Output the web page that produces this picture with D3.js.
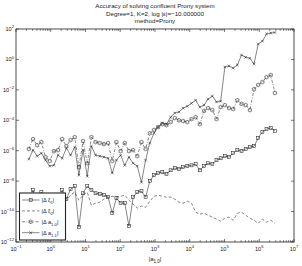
<!DOCTYPE html>
<html><head><meta charset="utf-8">
<script src="https://cdn.jsdelivr.net/npm/d3@7"></script>
<style>body{margin:0;background:#fff}svg{display:block;font-family:"Liberation Sans",Arial,sans-serif}</style>
</head><body><svg id="c" width="302" height="266"></svg>
<script>
const titleLines = ["Accuracy of solving confluent Prony system", "Degree=1, K=2, log |\u03b5|=\u221210.000000", "method=Prony"];
const xExp = [-0.63,-0.51,-0.39,-0.27,-0.15,-0.03,0.09,0.21,0.33,0.45,0.57,0.69,0.81,0.93,1.05,1.17,1.29,1.41,1.53,1.65,1.77,1.89,2.01,2.13,2.25,2.37,2.49,2.61,2.73,2.85,2.97,3.09,3.21,3.33,3.45,3.57,3.69,3.81,3.93,4.05,4.17,4.29,4.41,4.53,4.65,4.77,4.89,5.01,5.13,5.25,5.37,5.49,5.61,5.73,5.85,5.97,6.09,6.21,6.33,6.45];
const dXi1 = [5.6e-10,2.6e-9,2.6e-10,1.9e-9,2.6e-10,1.2e-10,3.1e-10,5.6e-10,2.6e-9,6.6e-10,3.0e-9,4.7e-9,9.4e-12,1.6e-9,4.7e-9,2.6e-9,1.6e-9,1.4e-9,1.2e-9,8.9e-10,7.8e-11,7.6e-10,3.6e-10,3.6e-10,1.1e-11,8.9e-10,1.9e-9,2.2e-9,8.9e-10,1.0e-8,2.5e-8,3.4e-8,3.9e-8,2.9e-8,5.2e-8,7.2e-8,6.2e-8,8.3e-8,9.8e-8,1.1e-7,1.3e-7,5.2e-8,9.8e-8,1.5e-7,1.3e-7,2.4e-7,3.2e-7,4.4e-7,3.8e-7,6.9e-7,1.1e-6,9.4e-7,1.3e-6,1.7e-6,2.0e-6,6.7e-6,1.7e-5,2.6e-5,3.1e-5,2.0e-5];
const dXi2 = [4.1e-10,1.2e-9,3.6e-10,8.9e-10,2.3e-10,1.7e-10,2.6e-10,4.8e-10,1.0e-9,5.6e-10,1.2e-9,1.9e-9,5.6e-10,1.2e-9,1.9e-9,2.6e-10,3.6e-10,4.1e-10,6.6e-10,8.9e-10,1.0e-9,8.9e-10,1.0e-9,1.2e-9,5.6e-10,3.1e-10,1.7e-10,2.3e-10,1.9e-10,4.8e-10,1.0e-9,1.2e-9,1.0e-9,8.9e-10,8.9e-10,6.6e-10,4.1e-10,3.6e-10,4.8e-10,3.6e-10,9.1e-11,6.7e-11,7.8e-11,5.8e-11,4.3e-11,3.2e-11,2.3e-11,3.7e-11,4.3e-11,2.7e-11,7.8e-11,9.1e-11,5.8e-11,3.7e-11,2.7e-11,1.7e-11,3.2e-11,2.0e-11,2.7e-11,1.7e-11];
const dA10 = [1.3e-6,5.8e-6,2.3e-6,3.7e-6,3.8e-7,2.1e-7,9.4e-7,1.1e-6,5.8e-6,2.0e-6,5.0e-6,7.8e-6,8.3e-8,4.3e-6,1.5e-7,7.8e-6,3.7e-6,3.2e-6,2.7e-6,3.2e-6,2.1e-7,3.7e-6,9.4e-7,3.2e-6,9.4e-7,1.1e-6,4.4e-7,3.7e-6,1.3e-6,1.4e-5,2.3e-5,3.6e-5,5.6e-5,4.8e-5,7.6e-5,1.4e-4,1.0e-4,8.9e-5,7.6e-5,1.2e-4,1.6e-4,5.6e-5,4.1e-4,6.3e-4,4.7e-4,1.2e-4,7.4e-4,1.0e-3,6.3e-4,5.5e-4,2.1e-3,1.2e-3,1.0e-3,4.7e-4,1.1e-2,2.1e-2,3.3e-2,6.9e-2,9.4e-2,6.2e-3];
const dA11 = [2.8e-7,1.1e-6,4.4e-7,6.9e-7,2.4e-7,9.8e-8,1.1e-7,5.1e-7,3.2e-7,1.5e-6,5.1e-7,1.7e-6,2.5e-8,1.1e-6,2.1e-8,2.0e-6,5.1e-7,4.4e-7,3.8e-7,3.2e-7,3.4e-8,2.4e-7,5.1e-7,1.1e-7,3.8e-7,1.5e-7,9.8e-8,8.5e-9,2.4e-7,3.2e-6,1.4e-5,3.6e-5,6.6e-5,5.6e-5,1.6e-4,3.0e-4,3.5e-4,6.3e-4,8.5e-4,1.3e-3,2.1e-3,7.4e-4,1.0e-3,2.5e-3,3.9e-3,1.6e-3,1.8e-3,0.32,0.37,0.27,0.43,1.95,1.4,1.2,0.50,10.3,16,47,55,59];
const xTickExp = [-1,0,1,2,3,4,5,6,7];
const yTickExp = [2,0,-2,-4,-6,-8,-10,-12];
const legendLabels = [["\u0394 \u03be","1"],["\u0394 \u03be","2"],["\u0394 a","1,0"],["\u0394 a","1,1"]];
const xLabel = ["a","1,0"];

const svg = d3.select("#c");
const L=16,R=294,T=29,B=242;
const x = d3.scaleLog().domain([0.1,1e7]).range([L,R]);
const y = d3.scaleLog().domain([1e-12,1e2]).range([B,T]);
const xv = xExp.map(e=>Math.pow(10,e));
const ink="#222";

svg.selectAll("text.title").data(titleLines).enter().append("text")
  .attr("x",(L+R)/2).attr("y",(d,i)=>8+i*7.6).attr("text-anchor","middle")
  .attr("font-size",6.2).attr("fill",ink).text(d=>d);

svg.append("rect").attr("x",L).attr("y",T).attr("width",R-L).attr("height",B-T)
  .attr("fill","none").attr("stroke",ink).attr("stroke-width",0.8);

const g = svg.append("g").attr("stroke",ink).attr("stroke-width",0.6);
xTickExp.forEach((e,k)=>{
  const px=x(Math.pow(10,e));
  g.append("line").attr("x1",px).attr("x2",px).attr("y1",B).attr("y2",B-3);
  g.append("line").attr("x1",px).attr("x2",px).attr("y1",T).attr("y2",T+3);
  if(k<xTickExp.length-1){
    for(let m=2;m<=9;m++){
      const pm=x(m*Math.pow(10,e));
      g.append("line").attr("x1",pm).attr("x2",pm).attr("y1",B).attr("y2",B-1.8);
      g.append("line").attr("x1",pm).attr("x2",pm).attr("y1",T).attr("y2",T+1.8);
    }
  }
});
yTickExp.forEach(e=>{
  const py=y(Math.pow(10,e));
  g.append("line").attr("x1",L).attr("x2",L+3).attr("y1",py).attr("y2",py);
  g.append("line").attr("x1",R).attr("x2",R-3).attr("y1",py).attr("y2",py);
});

function powLabel(sel,e){
  sel.append("tspan").text("10");
  sel.append("tspan").attr("dy",-2.6).attr("font-size",4.2).text(e<0?"\u2212"+(-e):String(e));
}
xTickExp.forEach(e=>{
  const t=svg.append("text").attr("x",x(Math.pow(10,e))).attr("y",251).attr("text-anchor","middle")
    .attr("font-size",5.6).attr("fill",ink);
  powLabel(t,e);
});
yTickExp.forEach(e=>{
  const t=svg.append("text").attr("x",14).attr("y",y(Math.pow(10,e))+2).attr("text-anchor","end")
    .attr("font-size",5.6).attr("fill",ink);
  powLabel(t,e);
});
{
  const t=svg.append("text").attr("x",(L+R)/2).attr("y",261).attr("text-anchor","middle").attr("font-size",6).attr("fill",ink);
  t.append("tspan").text("|"+xLabel[0]);
  t.append("tspan").attr("dy",1.8).attr("font-size",4.5).text(xLabel[1]);
  t.append("tspan").attr("dy",-1.8).text("|");
}

const line = d3.line().x((d,i)=>x(xv[i])).y(d=>y(d));
const series = [
  {v:dXi1, dash:null, mk:"square"},
  {v:dXi2, dash:"3,2", mk:null},
  {v:dA10, dash:"3,1.5,0.8,1.5", mk:"hex"},
  {v:dA11, dash:null, mk:"x"}
];
const plot = svg.append("g");
function hexPath(r){
  let p="";
  for(let k=0;k<12;k++){
    const a=-Math.PI/2+k*Math.PI/6, rr=(k%2===0)?r:r*0.6;
    p+=(k?"L":"M")+(rr*Math.cos(a)).toFixed(2)+","+(rr*Math.sin(a)).toFixed(2);
  }
  return p+"Z";
}
function drawMarker(gg,type,cx,cy){
  if(type==="square"){
    gg.append("rect").attr("x",cx-1.5).attr("y",cy-1.5).attr("width",3).attr("height",3)
      .attr("fill","none").attr("stroke",ink).attr("stroke-width",0.55);
  } else if(type==="hex"){
    gg.append("path").attr("d",hexPath(2.2)).attr("transform",`translate(${cx},${cy})`)
      .attr("fill","none").attr("stroke",ink).attr("stroke-width",0.5);
  } else if(type==="x"){
    gg.append("path").attr("d",`M${cx-1.3},${cy-1.3}L${cx+1.3},${cy+1.3}M${cx-1.3},${cy+1.3}L${cx+1.3},${cy-1.3}`)
      .attr("stroke",ink).attr("stroke-width",0.55);
  }
}
series.forEach(s=>{
  plot.append("path").attr("d",line(s.v)).attr("fill","none").attr("stroke",ink)
    .attr("stroke-width",0.55).attr("stroke-dasharray",s.dash);
  if(s.mk){
    const mg=plot.append("g");
    s.v.forEach((d,i)=>drawMarker(mg,s.mk,x(xv[i]),y(d)));
  }
});

const lg=svg.append("g");
lg.append("rect").attr("x",19.5).attr("y",193).attr("width",46).attr("height",47)
  .attr("fill","#fff").attr("stroke",ink).attr("stroke-width",1.1);
legendLabels.forEach((lab,i)=>{
  const ly=200+i*10.9;
  lg.append("line").attr("x1",22).attr("x2",39.5).attr("y1",ly).attr("y2",ly).attr("stroke",ink)
    .attr("stroke-width",0.55).attr("stroke-dasharray",series[i].dash);
  if(series[i].mk) drawMarker(lg,series[i].mk,30.7,ly);
  const t=lg.append("text").attr("x",41.5).attr("y",ly+2).attr("font-size",5.6).attr("fill",ink);
  t.append("tspan").text("|"+lab[0]);
  t.append("tspan").attr("dy",1.8).attr("font-size",4.2).text(lab[1]);
  t.append("tspan").attr("dy",-1.8).text("|");
});
</script></body></html>
